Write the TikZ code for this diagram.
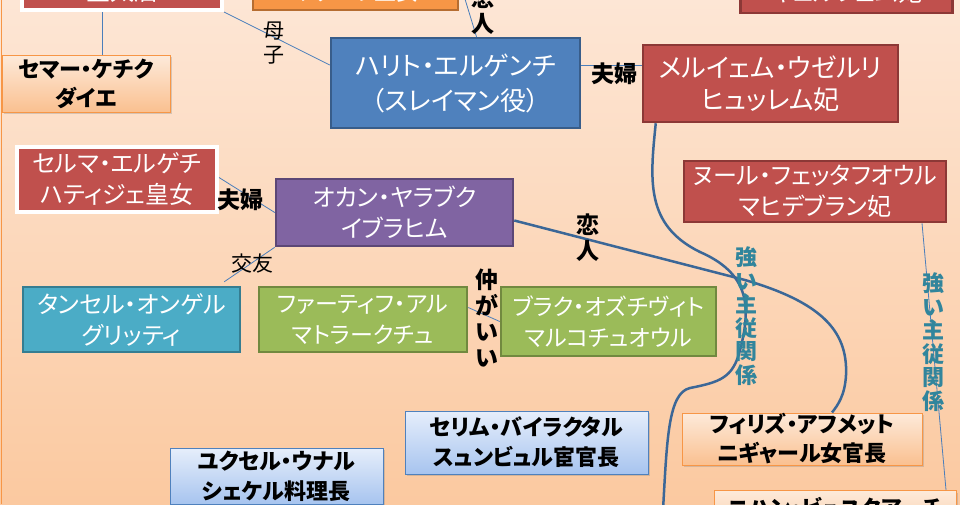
\documentclass[tikz,border=0pt]{standalone}
\usepackage{fontspec}
\setmainfont{Noto Sans CJK JP}[RawFeature=+palt]
\usetikzlibrary{shadows, positioning}
\definecolor{bgtop}{HTML}{FDE6D5}
\definecolor{bgbot}{HTML}{FBC9A0}
\definecolor{boxred}{HTML}{C0504D}
\definecolor{redline}{HTML}{8C3836}
\definecolor{boxblue}{HTML}{4F81BD}
\definecolor{blueline}{HTML}{385D8A}
\definecolor{boxpurple}{HTML}{8064A2}
\definecolor{purpleline}{HTML}{5C4776}
\definecolor{boxteal}{HTML}{4BACC6}
\definecolor{tealline}{HTML}{357D91}
\definecolor{boxgreen}{HTML}{9BBB59}
\definecolor{greenline}{HTML}{71893F}
\definecolor{boxorange}{HTML}{F79646}
\definecolor{orangeline}{HTML}{B66D31}
\definecolor{lightorange}{HTML}{FDEADA}
\definecolor{midorange}{HTML}{FAC090}
\definecolor{lightblue}{HTML}{E6EEFB}
\definecolor{midblue}{HTML}{A7C4EF}
\definecolor{thinblue}{HTML}{4A7EBB}
\definecolor{thickblue}{HTML}{3B6797}
\definecolor{labelteal}{HTML}{31859C}
\tikzstyle{box}        = [align=center, inner sep=0pt, font=\fontsize{24}{31}\selectfont]
\tikzstyle{redbox}     = [box, draw=redline, line width=2.5pt, fill=boxred, text=white]
\tikzstyle{whitebox}   = [box, draw=white, line width=4pt, fill=boxred, text=white, drop shadow={shadow xshift=2pt, shadow yshift=-2pt, opacity=0.35}]
\tikzstyle{bluebox}    = [box, draw=blueline, line width=2.5pt, fill=boxblue, text=white]
\tikzstyle{purplebox}  = [box, draw=purpleline, line width=2.5pt, fill=boxpurple, text=white]
\tikzstyle{tealbox}    = [box, draw=tealline, line width=2.5pt, fill=boxteal, text=white]
\tikzstyle{greenbox}   = [box, draw=greenline, line width=2.5pt, fill=boxgreen, text=white, font=\fontsize{23}{31}\selectfont]
\tikzstyle{orangebox}  = [box, draw=orangeline, line width=2.5pt, fill=boxorange, text=white]
\tikzstyle{paleorange} = [box, draw=boxorange, line width=1pt, top color=lightorange, bottom color=midorange, text=black, font=\bfseries\fontsize{22}{29}\selectfont, drop shadow={shadow xshift=2pt, shadow yshift=-2pt, opacity=0.3}]
\tikzstyle{paleblue}   = [box, draw=boxblue, line width=1pt, top color=lightblue, bottom color=midblue, text=black, font=\bfseries\fontsize{22}{30}\selectfont, drop shadow={shadow xshift=2pt, shadow yshift=-2pt, opacity=0.3}]
\tikzstyle{thinedge}   = [draw=thinblue, line width=0.8pt]
\tikzstyle{thickedge}  = [draw=thickblue, line width=2.5pt]
\tikzstyle{rel}        = [inner sep=0pt, align=center, font=\bfseries\fontsize{23}{26}\selectfont]
\tikzstyle{relthin}    = [inner sep=0pt, align=center, font=\fontsize{21}{24}\selectfont]
\tikzstyle{master}     = [inner sep=0pt, align=center, text=labelteal, font=\bfseries\fontsize{22}{23.5}\selectfont]

\begin{document}
\begin{tikzpicture}[x=1pt, y=-1pt]

\useasboundingbox (0,0) rectangle (960,504);
\fill[top color=bgtop, bottom color=bgbot] (0,0) rectangle (960,504);
\draw[boxorange, line width=1pt] (1.5,0) -- (1.5,504);

\node[whitebox, anchor=south, minimum width=200pt, text height=50pt, text depth=10pt] (Hafsa) at (122,12) {皇太后};
\node[orangebox, anchor=south, minimum width=205pt, text height=50pt, text depth=9pt, font=\fontsize{22}{30}\selectfont] (Isabella) at (355.5,11) {イザベラ王女};
\node[redbox, anchor=south, minimum width=212pt, text height=50pt, text depth=11pt] (Gulfem) at (846.5,14) {ギュルフェム妃};

\node[bluebox, minimum width=249pt, minimum height=90pt, font=\fontsize{26}{35}\selectfont] (Halit) at (455.5,83) {ハリト・エルゲンチ\\（スレイマン役）};
\node[redbox, minimum width=255pt, minimum height=77pt, font=\fontsize{26}{32}\selectfont] (Meryem) at (770.5,83.5) {メルイェム・ウゼルリ\\ヒュッレム妃};
\node[paleorange, minimum width=168pt, minimum height=57pt] (Sema) at (86,83.5) {セマー・ケチク\\ダイエ};

\node[whitebox, minimum width=200pt, minimum height=65pt] (Selma) at (117,179.5) {セルマ・エルゲチ\\ハティジェ皇女};
\node[purplebox, minimum width=237pt, minimum height=67pt] (Okan) at (394.5,212.5) {オカン・ヤラブク\\イブラヒム};
\node[redbox, minimum width=262pt, minimum height=61pt] (Nur) at (815,191.5) {ヌール・フェッタフオウル\\マヒデブラン妃};

\node[tealbox, minimum width=217pt, minimum height=65pt] (Tansel) at (131.5,319.5) {タンセル・オンゲル\\グリッティ};
\node[greenbox, minimum width=208pt, minimum height=65pt] (Fatih) at (363,319.5) {ファーティフ・アル\\マトラークチュ};
\node[greenbox, minimum width=215pt, minimum height=69pt] (Burak) at (608.5,321.5) {ブラク・オズチヴィト\\マルコチュオウル};

\node[paleblue, minimum width=243pt, minimum height=63pt] (Selim) at (526.5,442.5) {セリム・バイラクタル\\スュンビュル宦官長};
\node[paleblue, minimum width=213pt, minimum height=56pt] (Yuksel) at (276.5,476) {ユクセル・ウナル\\シェケル料理長};
\node[paleorange, minimum width=240pt, minimum height=52pt] (Filiz) at (802,439) {フィリズ・アフメット\\ニギャール女官長};
\node[paleorange, anchor=north, minimum width=242pt, minimum height=60pt, text height=22pt, text depth=30pt] (Nihan) at (835,490) {ニハン・ビュユクアーチ};

\coordinate (MeryemEnd) at (663,510);

\draw[thinedge] ([xshift=-20pt]Hafsa.south) -- ([xshift=-20pt]Hafsa.south |- Sema.north);
\draw[thinedge] (Hafsa.south east) -- ([yshift=18pt]Halit.west);
\draw[thinedge] (Isabella.east) -- ([xshift=21pt]Halit.north);
\draw[thinedge] ([yshift=18pt]Halit.east) -- ([yshift=18pt]Halit.east -| Meryem.west);
\draw[thinedge] ([yshift=2pt]Selma.east) -- (Okan.west);
\draw[thinedge] (Okan.south west) -- ([xshift=-17pt,yshift=4pt]Tansel.north east);
\draw[thinedge] ([yshift=12pt]Fatih.east) -- (Burak.west);
\draw[thinedge] ([xshift=107pt]Nur.south) -- ([xshift=111pt]Nihan.north);

\draw[thickedge] ([xshift=14pt]Meryem.south west) .. controls (650,180) and (645,225) .. (700,252)
  .. controls (748,273) and (752,305) .. (740,350) .. controls (733,378) and (720,382) .. (690,388)
  .. controls (668,393) and (667,440) .. (MeryemEnd);
\draw[thickedge] ([yshift=-8pt]Okan.east) -- (745,280) .. controls (820,302) and (848,330) .. (846,375)
  .. controls (845,395) and (838,405) .. ([xshift=30pt]Filiz.north);

\node[relthin] (BoshiLabel) at (274,43) {母\\子};
\node[rel] (KoibitoTop) at (483,11) {恋\\人};
\node[rel] (FufuTop) at (614,74) {夫婦};
\node[rel] (FufuMid) at (240,200) {夫婦};
\node[relthin] (KoyuLabel) at (252,264) {交友};
\node[rel] (NakaLabel) at (487,318) {仲\\が\\い\\い};
\node[rel] (KoibitoMid) at (588,238) {恋\\人};
\node[master] (MasterA) at (746,316) {強\\い\\主\\従\\関\\係};
\node[master] (MasterB) at (933,342) {強\\い\\主\\従\\関\\係};

\end{tikzpicture}
\end{document}
